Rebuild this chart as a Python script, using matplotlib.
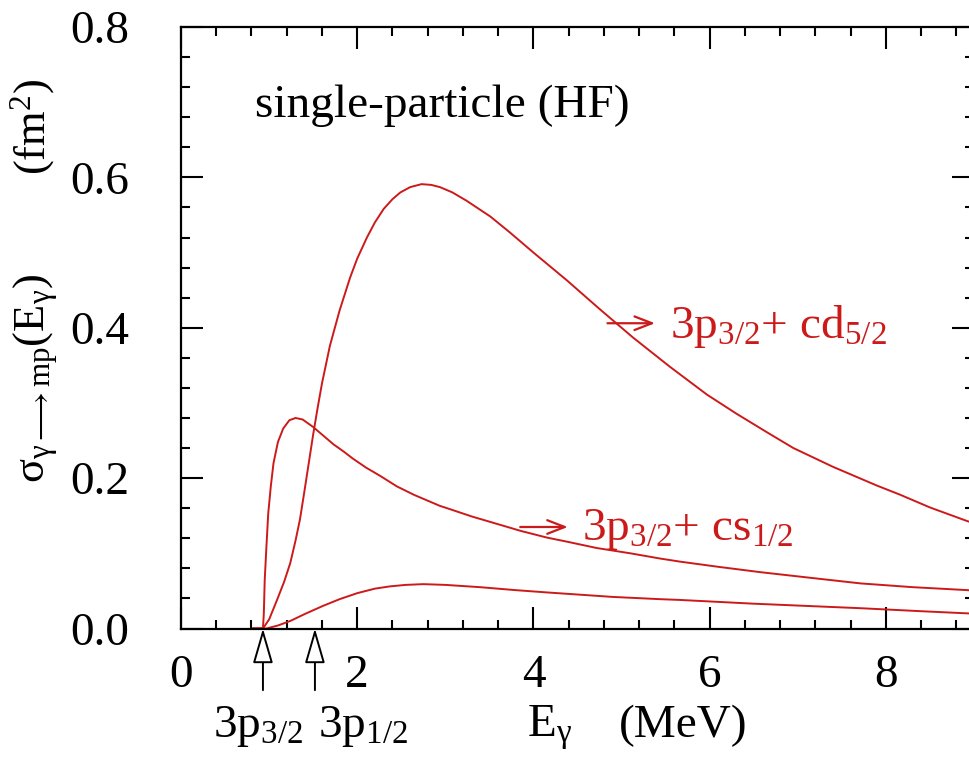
import matplotlib
matplotlib.use("Agg")
import matplotlib.pyplot as plt
from matplotlib.ticker import MultipleLocator

plt.rcParams["font.family"] = ["Liberation Serif", "DejaVu Serif"]
plt.rcParams["mathtext.fontset"] = "custom"
plt.rcParams["mathtext.rm"] = "Liberation Serif"
plt.rcParams["mathtext.it"] = "Liberation Serif:italic"
plt.rcParams["mathtext.bf"] = "Liberation Serif:bold"
plt.rcParams["mathtext.fallback"] = "stix"

# Photon energy grid (MeV) and cross sections (fm^2) for each channel
e_cd52 = [0.82, 0.93, 1.00, 1.09, 1.17, 1.24, 1.30, 1.35, 1.40, 1.45, 1.50, 1.55,
          1.60, 1.69, 1.80, 1.92, 2.00, 2.11, 2.20, 2.30, 2.40, 2.49, 2.60, 2.73,
          2.84, 2.94, 3.08, 3.24, 3.51, 3.73, 4.00, 4.38, 4.75, 5.13, 5.55, 5.97,
          6.30, 6.65, 6.95, 7.40, 7.90, 8.16, 8.50, 8.92, 9.00]
sig_cd52 = [0.0, 0.0, 0.012, 0.038, 0.062, 0.087, 0.117, 0.145, 0.182, 0.220, 0.258,
            0.293, 0.326, 0.376, 0.423, 0.467, 0.492, 0.520, 0.540, 0.558, 0.571,
            0.580, 0.587, 0.591, 0.590, 0.587, 0.580, 0.569, 0.548, 0.527, 0.500,
            0.463, 0.425, 0.387, 0.348, 0.311, 0.286, 0.261, 0.240, 0.215, 0.190,
            0.178, 0.161, 0.143, 0.140]

e_cs12 = [0.82, 0.93, 0.94, 0.95, 0.97, 0.99, 1.02, 1.05, 1.10, 1.16, 1.23, 1.30,
          1.38, 1.50, 1.62, 1.73, 1.85, 1.95, 2.10, 2.26, 2.45, 2.64, 2.94, 3.02,
          3.30, 3.59, 3.85, 4.15, 4.40, 4.72, 5.10, 5.44, 5.66, 6.10, 6.57, 7.10,
          7.71, 8.30, 8.93, 9.00]
sig_cs12 = [0.0, 0.0, 0.020, 0.064, 0.110, 0.153, 0.190, 0.220, 0.248, 0.266, 0.277,
            0.280, 0.278, 0.268, 0.256, 0.245, 0.235, 0.226, 0.214, 0.203, 0.189,
            0.178, 0.163, 0.160, 0.149, 0.139, 0.130, 0.121, 0.115, 0.107, 0.100,
            0.093, 0.089, 0.082, 0.075, 0.068, 0.060, 0.055, 0.051, 0.050]

e_low = [0.82, 0.97, 1.10, 1.24, 1.40, 1.61, 1.80, 2.00, 2.20, 2.37, 2.55, 2.75,
         3.00, 3.39, 3.80, 4.15, 4.90, 5.44, 5.66, 6.50, 7.71, 8.40, 8.95, 9.00]
sig_low = [0.0, 0.0, 0.004, 0.010, 0.019, 0.030, 0.039, 0.047, 0.053, 0.056, 0.058,
           0.059, 0.058, 0.055, 0.051, 0.048, 0.042, 0.039, 0.038, 0.033, 0.027,
           0.023, 0.020, 0.020]

# Neutron separation thresholds
threshold_e = [0.93, 1.52]
threshold_labels = [r"3p$_{3/2}$", r"3p$_{1/2}$"]

RED = "#cc1a1a"
FS = 34
W, H = 969, 758
fig = plt.figure(figsize=(W / 100, H / 100), dpi=100)
ax = fig.add_axes([181 / W, (H - 628.5) / H, (974 - 181) / W, (628.5 - 27) / H])

for e, s in [(e_cd52, sig_cd52), (e_cs12, sig_cs12), (e_low, sig_low)]:
    ax.plot(e, s, color=RED, lw=1.4, solid_joinstyle="round")

ax.set_xlim(0, 9)
ax.set_ylim(0, 0.8)
ax.xaxis.set_major_locator(MultipleLocator(2))
ax.xaxis.set_minor_locator(MultipleLocator(0.4))
ax.yaxis.set_minor_locator(MultipleLocator(0.04))
ax.set_yticks([0, 0.2, 0.4, 0.6, 0.8])
ax.set_yticklabels(["0.0", "0.2", "0.4", "0.6", "0.8"])
ax.tick_params(which="both", direction="in", top=True, right=True, width=1.5,
               labelsize=FS)
ax.tick_params(which="major", length=16)
ax.tick_params(which="minor", length=6.5)
ax.tick_params(axis="y", which="major", pad=37)
ax.tick_params(axis="x", which="major", pad=19)
for sp in ax.spines.values():
    sp.set_linewidth(1.6)

# Threshold arrows below the energy axis
for e in threshold_e:
    ax.annotate("", xy=(e, 0.0), xytext=(e, -0.082), annotation_clip=False,
                arrowprops=dict(arrowstyle="-|>,head_length=1.45,head_width=0.42",
                                mutation_scale=15, fc="white", ec="black",
                                lw=1.4, shrinkA=0, shrinkB=0))

fig.text(213 / W, 1 - 737 / H, threshold_labels[0], fontsize=FS, ha="left",
         va="baseline")
fig.text(318 / W, 1 - 737 / H, threshold_labels[1], fontsize=FS, ha="left",
         va="baseline")
fig.text(527 / W, 1 - 737 / H, r"E$_\mathrm{γ}$", fontsize=FS, ha="left",
         va="baseline")
fig.text(619 / W, 1 - 737 / H, "(MeV)", fontsize=FS, ha="left", va="baseline")

# Vertical axis title
fig.text(45 / W, 1 - 483 / H,
         r"σ$_{\mathrm{γ}\longrightarrow\mathrm{mp}}$(E$_\mathrm{γ}$)",
         fontsize=32, rotation=90, rotation_mode="anchor", ha="left",
         va="baseline")
fig.text(45 / W, 1 - 175 / H, r"(fm$^2$)", fontsize=32,
         rotation=90, rotation_mode="anchor", ha="left", va="baseline")

ax.text(0.84, 0.680, "single-particle (HF)", fontsize=FS, ha="left",
        va="baseline")

# Channel labels with pointer arrows
channel_text = [r"3p$_{3/2}$+ cd$_{5/2}$", r"3p$_{3/2}$+ cs$_{1/2}$"]
channel_xy = [(5.55, 0.387), (4.55, 0.118)]
pointer_span = [(4.84, 5.38, 0.406), (3.85, 4.39, 0.135)]
for txt, (tx, ty), (x0, x1, y) in zip(channel_text, channel_xy, pointer_span):
    ax.text(tx, ty, txt, fontsize=FS, color=RED, ha="left", va="baseline")
    ax.annotate("", xy=(x1, y), xytext=(x0, y),
                arrowprops=dict(arrowstyle="->,head_length=0.9,head_width=0.35",
                                mutation_scale=14, color=RED, lw=1.6,
                                shrinkA=0, shrinkB=0))

fig.savefig("out.png", dpi=100)
